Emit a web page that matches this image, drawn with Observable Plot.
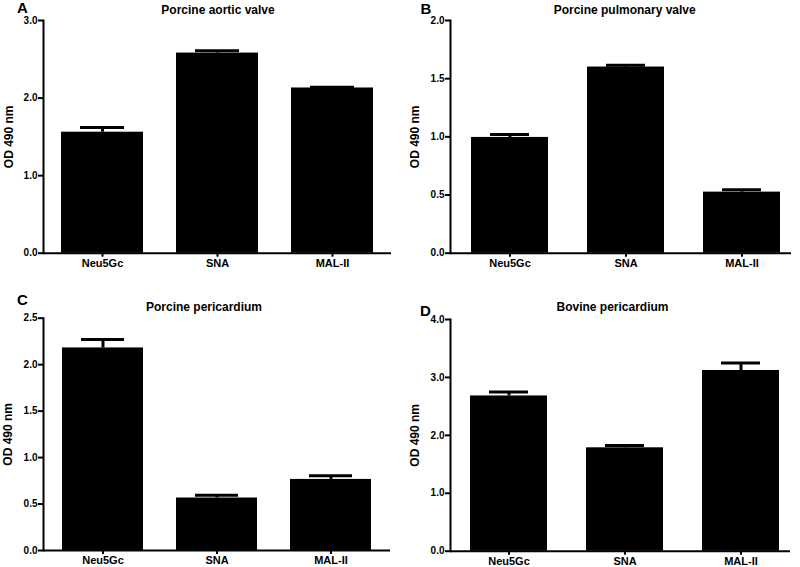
<!DOCTYPE html>
<html>
<head>
<meta charset="utf-8">
<script src="https://cdn.jsdelivr.net/npm/d3@7"></script>
<script src="https://cdn.jsdelivr.net/npm/@observablehq/plot@0.6"></script>
<style>
  html, body { margin: 0; padding: 0; background: #fff; }
  #wrap { position: relative; width: 800px; height: 567px; overflow: hidden; font-family: "Liberation Sans", Arial, sans-serif; font-weight: bold; color: #000; }
  .panel { position: absolute; }
  .title { position: absolute; font-size: 12px; line-height: 12px; white-space: nowrap; transform: translateX(-50%); }
  .letter { position: absolute; font-size: 15px; line-height: 15px; }
</style>
</head>
<body>
<div id="wrap"></div>
<script>
const categories = ["Neu5Gc", "SNA", "MAL-II"];

const aorticMean = [1.56, 2.58, 2.13];
const aorticSem = [0.06, 0.03, 0.01];

const pulmonaryMean = [0.995, 1.60, 0.525];
const pulmonarySem = [0.025, 0.015, 0.02];

const porcinePericMean = [2.18, 0.565, 0.765];
const porcinePericSem = [0.09, 0.03, 0.04];

const bovinePericMean = [2.68, 1.785, 3.12];
const bovinePericSem = [0.07, 0.04, 0.13];

const panelTitles = ["Porcine aortic valve", "Porcine pulmonary valve", "Porcine pericardium", "Bovine pericardium"];
const panelLetters = ["A", "B", "C", "D"];
const yLabel = "OD 490 nm";

const aTicks = [0, 1, 2, 3];
const bTicks = [0, 0.5, 1, 1.5, 2];
const cTicks = [0, 0.5, 1, 1.5, 2, 2.5];
const dTicks = [0, 1, 2, 3, 4];

function rows(means, sems) {
  return categories.map((c, i) => ({cat: c, mean: means[i], upper: means[i] + sems[i]}));
}

const panels = [
  {data: rows(aorticMean, aorticSem), ticks: aTicks, max: 3, left: 0, top: 0, h: 280, mt: 20, mb: 27.3, ml: 43, mr: 9, pi: 0.29, po: 0.157, align: 0.5, tx: 218, ty: 3.8, lx: 17, ly: 0.3, ldx: -34},
  {data: rows(pulmonaryMean, pulmonarySem), ticks: bTicks, max: 2, left: 400, top: 0, h: 280, mt: 20, mb: 27.3, ml: 50, mr: 9, pi: 0.333, po: 0.124, align: 0.655, tx: 624.7, ty: 3.8, lx: 420.5, ly: 0.8, ldx: -35},
  {data: rows(porcinePericMean, porcinePericSem), ticks: cTicks, max: 2.5, left: 0, top: 280, h: 287, mt: 37.7, mb: 17, ml: 43, mr: 10, pi: 0.29, po: 0.157, align: 0.5, tx: 204, ty: 300.5, lx: 17, ly: 292.3, ldx: -35},
  {data: rows(bovinePericMean, bovinePericSem), ticks: dTicks, max: 4, left: 400, top: 280, h: 287, mt: 39, mb: 16.3, ml: 50, mr: 10, pi: 0.333, po: 0.124, align: 0.655, tx: 612.5, ty: 300.5, lx: 420, ly: 303.3, ldx: -35}
];

const wrap = document.getElementById("wrap");

panels.forEach((p, k) => {
  const chart = Plot.plot({
    width: 400,
    height: p.h,
    marginTop: p.mt,
    marginBottom: p.mb,
    marginLeft: p.ml,
    marginRight: p.mr,
    style: {fontFamily: "Liberation Sans, Arial, sans-serif", fontWeight: "bold", background: "transparent", overflow: "visible"},
    x: {type: "band", domain: categories, paddingInner: p.pi, paddingOuter: p.po, align: p.align, label: null},
    y: {domain: [0, p.max], label: null},
    marks: [
      Plot.barY(p.data, {x: "cat", y: "mean", fill: "#000"}),
      Plot.ruleX(p.data, {x: "cat", y1: "mean", y2: "upper", stroke: "#000", strokeWidth: 3}),
      Plot.tickY(p.data, {x: "cat", y: "upper", stroke: "#000", strokeWidth: 3, insetLeft: 19, insetRight: 19}),
      Plot.frame({anchor: "left", stroke: "#000", strokeWidth: 2}),
      Plot.ruleY([0], {stroke: "#000", strokeWidth: 2}),
      Plot.axisY({ticks: p.ticks, tickFormat: d3.format(".1f"), tickSize: 5, tickPadding: 1, strokeWidth: 2, fontSize: 10, label: null}),
      Plot.axisX({tickSize: 4, tickPadding: 2, strokeWidth: 2, fontSize: 11, label: null}),
      Plot.text([yLabel], {frameAnchor: "left", rotate: -90, dx: p.ldx, fontSize: 12, fontWeight: "bold", textAnchor: "middle"})
    ]
  });
  chart.classList.add("panel");
  chart.style.left = p.left + "px";
  chart.style.top = p.top + "px";
  wrap.appendChild(chart);

  const t = document.createElement("div");
  t.className = "title";
  t.textContent = panelTitles[k];
  t.style.left = p.tx + "px";
  t.style.top = p.ty + "px";
  wrap.appendChild(t);

  const l = document.createElement("div");
  l.className = "letter";
  l.textContent = panelLetters[k];
  l.style.left = p.lx + "px";
  l.style.top = p.ly + "px";
  wrap.appendChild(l);
});
</script>
</body>
</html>
